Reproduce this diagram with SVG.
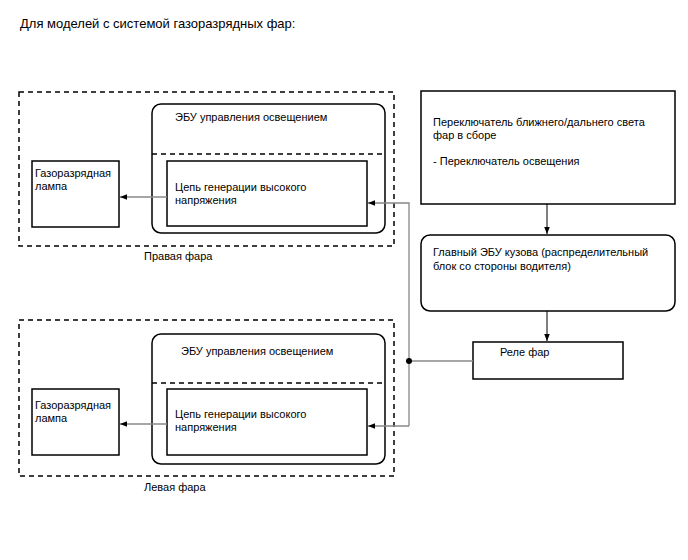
<svg xmlns="http://www.w3.org/2000/svg" width="688" height="560" viewBox="0 0 688 560">
<defs>
<style>
text{font-family:"Liberation Sans",Arial,sans-serif;font-size:11px;fill:#000}
.title{font-size:13px}
.box{fill:#fff;stroke:#000;stroke-width:1.5}
.dash{fill:none;stroke:#000;stroke-width:1.5;stroke-dasharray:5,4}
.conn{fill:none;stroke:#888;stroke-width:1.3}
.blk{fill:none;stroke:#000;stroke-width:1}
</style>
<marker id="ah" viewBox="0 0 10 10" refX="10" refY="5" markerWidth="7" markerHeight="7" markerUnits="userSpaceOnUse" orient="auto">
<path d="M0,1 L10,5 L0,9 Z" fill="#000"/>
</marker>
</defs>
<rect width="688" height="560" fill="#fff"/>
<text class="title" x="20" y="28">Для моделей с системой газоразрядных фар:</text>

<g id="right-headlamp">
<rect class="dash" x="19" y="92" width="375" height="154"/>
<text x="144" y="260">Правая фара</text>
</g>
<g id="right-ecu">
<rect class="box" x="152" y="104" width="233" height="129" rx="9"/>
<text x="175" y="121">ЭБУ управления освещением</text>
<line class="dash" x1="152" y1="154" x2="385" y2="154"/>
</g>
<g id="right-hv">
<rect class="box" x="167" y="161" width="200" height="65"/>
<text x="175" y="191">Цепь генерации высокого</text>
<text x="175" y="204">напряжения</text>
</g>
<g id="right-lamp">
<rect class="box" x="32" y="161" width="87" height="66"/>
<text x="35" y="177">Газоразрядная</text>
<text x="35" y="190">лампа</text>
</g>

<g id="left-headlamp">
<rect class="dash" x="19" y="320" width="375" height="156"/>
<text x="144" y="491">Левая фара</text>
</g>
<g id="left-ecu">
<rect class="box" x="152" y="334" width="233" height="130" rx="9"/>
<text x="181" y="355">ЭБУ управления освещением</text>
<line class="dash" x1="152" y1="383" x2="385" y2="383"/>
</g>
<g id="left-hv">
<rect class="box" x="167" y="389" width="200" height="66"/>
<text x="175" y="418">Цепь генерации высокого</text>
<text x="175" y="431">напряжения</text>
</g>
<g id="left-lamp">
<rect class="box" x="32" y="389" width="87" height="66"/>
<text x="35" y="409">Газоразрядная</text>
<text x="35" y="422">лампа</text>
</g>

<g id="switch">
<rect class="box" x="421" y="91" width="254" height="113"/>
<text x="433" y="126">Переключатель ближнего/дальнего света</text>
<text x="433" y="139">фар в сборе</text>
<text x="433" y="165">- Переключатель освещения</text>
</g>
<g id="body-ecu">
<rect class="box" x="421" y="235" width="254" height="76" rx="9"/>
<text x="433" y="256">Главный ЭБУ кузова (распределительный</text>
<text x="433" y="270">блок со стороны водителя)</text>
</g>
<g id="relay">
<rect class="box" x="473" y="342" width="150" height="37"/>
<text x="500" y="356">Реле фар</text>
</g>

<g id="connectors">
<line class="blk" x1="547" y1="204" x2="547" y2="234" marker-end="url(#ah)"/>
<line class="blk" x1="547" y1="311" x2="547" y2="341" marker-end="url(#ah)"/>
<line class="conn" x1="167" y1="197" x2="120" y2="197" marker-end="url(#ah)"/>
<line class="conn" x1="167" y1="424" x2="120" y2="424" marker-end="url(#ah)"/>
<polyline class="conn" points="473,361 409,361"/>
<polyline class="conn" points="409,426 409,203 368,203" marker-end="url(#ah)"/>
<polyline class="conn" points="409,426 368,426" marker-end="url(#ah)"/>
<circle cx="409" cy="361" r="3" fill="#000"/>
</g>
</svg>
